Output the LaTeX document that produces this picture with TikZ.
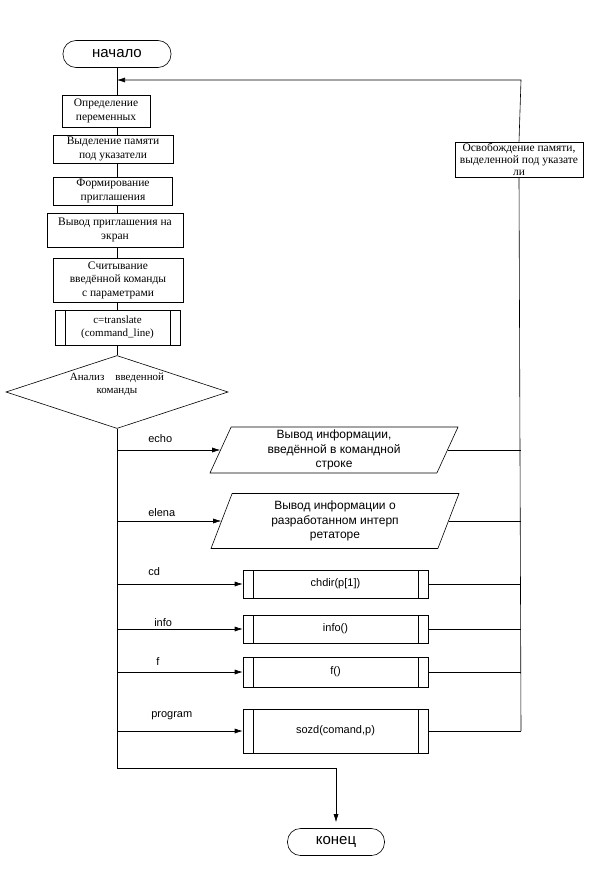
\documentclass[tikz,border=0pt]{standalone}
\usepackage{fontspec}
\setmainfont{Liberation Serif}
\setsansfont{Liberation Sans}
\usetikzlibrary{arrows.meta,shapes.geometric}

\begin{document}
\begin{tikzpicture}[
  x=1pt,y=-1pt,
  >={Latex[length=8pt,width=5pt]},
  line width=0.6pt,
  term/.style={draw,rounded corners=13pt,minimum height=27pt,inner sep=1pt,
    font=\sffamily\fontsize{15}{17}\selectfont},
  proc/.style={draw,align=center,inner sep=1pt,
    font=\fontsize{11.5}{13.5}\selectfont},
  subproc/.style={draw,align=center,inner sep=1pt,
    font=\sffamily\fontsize{11}{13}\selectfont,
    path picture={\draw
      ([xshift=10pt]path picture bounding box.north west) --
      ([xshift=10pt]path picture bounding box.south west)
      ([xshift=-10pt]path picture bounding box.north east) --
      ([xshift=-10pt]path picture bounding box.south east);}},
  decide/.style={draw,diamond,aspect=2.8,inner sep=0pt,align=center,
    minimum width=222pt,minimum height=73pt,
    font=\fontsize{11}{13}\selectfont},
  io/.style={draw,trapezium,trapezium left angle=63.4,
    trapezium right angle=116.6,trapezium stretches body,
    minimum width=248pt,align=center,inner sep=1pt,
    font=\sffamily\fontsize{12}{14.5}\selectfont},
  lab/.style={font=\sffamily\fontsize{11}{13}\selectfont,inner sep=1pt},
  sig/.style={->}]

  \useasboundingbox (0,0) rectangle (590,875);

  % main column
  \node[term,minimum width=108pt] (start) at (117,54) {начало};
  \node[proc,minimum width=88pt,minimum height=32pt] (b1) at (106,111)
    {Определение\\переменных};
  \node[proc,minimum width=120pt,minimum height=28pt] (b2) at (113,149)
    {Выделение памяти\\под указатели};
  \node[proc,minimum width=119pt,minimum height=28pt] (b3) at (113,191)
    {Формирование\\приглашения};
  \node[proc,minimum width=136pt,minimum height=34pt] (b4) at (115,230)
    {Вывод приглашения на\\экран};
  \node[proc,minimum width=130pt,minimum height=44pt] (b5) at (118,280)
    {Считывание\\введённой команды\\с параметрами};
  \node[subproc,minimum width=125pt,minimum height=35pt,
    font=\fontsize{11}{13}\selectfont] (b6) at (117.5,327.5)
    {c=translate\\(command\_line)};
  \node[decide] (dec) at (117,392) {Анализ\quad введенной\\команды\\[4pt]};

  % branches
  \node[io,minimum height=46pt] (echo) at (334,450)
    {Вывод информации,\\введённой в командной\\строке};
  \node[io,minimum height=55pt] (elena) at (335,521)
    {Вывод информации о\\разработанном интерп\\ретаторе};
  \node[subproc,minimum width=185pt,minimum height=28pt] (cd) at (335.5,584)
    {chdir(p[1])};
  \node[subproc,minimum width=185pt,minimum height=28pt] (info) at (335.5,629)
    {info()};
  \node[subproc,minimum width=185pt,minimum height=30pt] (f) at (335.5,672)
    {f()};
  \node[subproc,minimum width=185pt,minimum height=44pt] (prog) at (335.5,731)
    {sozd(comand,p)};

  \node[proc,minimum width=128pt,minimum height=35pt,
    font=\fontsize{11.5}{12}\selectfont] (free) at (519,159.5)
    {Освобождение памяти,\\выделенной под указате\\ли};

  \node[term,minimum width=97pt] (stop) at (336,842) {конец};

  \coordinate (rtop) at (521,80);
  \coordinate (corner) at (117,768);

  % connectors down the left
  \draw (start.south) -- (b1.north -| start.south);
  \foreach \a/\b in {b1/b2,b2/b3,b3/b4,b4/b5,b5/b6}
    \draw (\a.south -| start.south) -- (\b.north -| start.south);
  \draw (b6.south -| start.south) -- (dec.north);
  \draw[sig,shorten >=6pt] (dec.south) -- (corner) -| (stop.north);

  % command cases
  \foreach \n/\t/\dx/\dy in {echo/echo/30/8,elena/elena/30/5,cd/cd/30/9,
      info/info/36/3,f/f/38/7,prog/program/33/14}{
    \draw[sig] (\n.west -| dec.south) -- (\n.west)
      node[lab,pos=0,anchor=base west,xshift=\dx pt,yshift=\dy pt] {\t};
    \draw (\n.east) -- (\n.east -| rtop);
  }

  % back to the top
  \draw (prog.east -| rtop) -- (free.south);
  \draw[sig] (free.north) -- (rtop) -- (start.south |- rtop);
\end{tikzpicture}
\end{document}
